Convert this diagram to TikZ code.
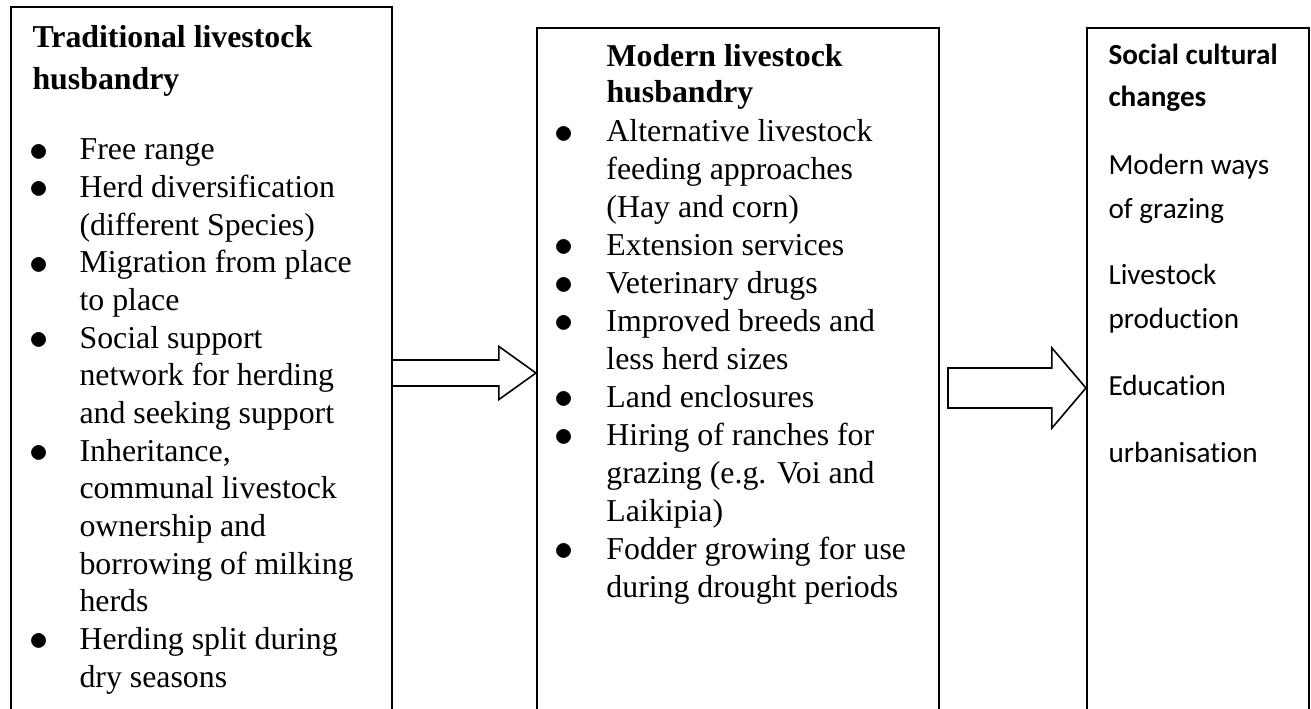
\documentclass[tikz,border=0pt]{standalone}
\usepackage{fontspec}
\setmainfont{Liberation Serif}
\newfontfamily\calibri[Ligatures=NoCommon]{Carlito}
\usetikzlibrary{calc,fit}
\tikzset{box/.style={draw,line width=0.8pt,inner sep=0pt},
  txt/.style={anchor=base west,inner sep=0pt},
  blockarrow/.style={draw,line width=0.6pt,line join=miter}}
\newcommand{\bul}{\makebox[0pt]{\smash{\raisebox{-0.4pt}{\fontsize{13.5}{0}\selectfont$\bullet$}}}}

\begin{document}
\begin{tikzpicture}[x=0.377pt,y=-0.377pt]
\useasboundingbox (0,0) rectangle (1311,709);
\clip (0,0) rectangle (1311,709);
% the three boxes run on past the bottom of the page
\node[box,fit={(11,7) (392,740)}] (trad) {};
\node[box,fit={(537,28) (939,740)}] (modern) {};
\node[box,fit={(1087,28) (1309,740)}] (social) {};

\node[txt,font=\fontsize{12}{15.8}\selectfont\bfseries] (tradhead) at (32,48)
  {\begin{tabular}[t]{@{}l@{}}Traditional livestock\\ husbandry\end{tabular}};
\node[txt,font=\fontsize{12}{14.2}\selectfont] (tradlist) at (39,160)
  {\begin{tabular}[t]{@{}p{15.1pt}@{}l@{}}
  \bul & Free range\\
  \bul & Herd diversification\\
       & (different Species)\\
  \bul & Migration from place\\
       & to place\\
  \bul & Social support\\
       & network for herding\\
       & and seeking support\\
  \bul & Inheritance,\\
       & communal livestock\\
       & ownership and\\
       & borrowing of milking\\
       & herds\\
  \bul & Herding split during\\
       & dry seasons
  \end{tabular}};

\node[txt,font=\fontsize{12}{13.2}\selectfont\bfseries] (modhead) at (606,67)
  {\begin{tabular}[t]{@{}l@{}}Modern livestock\\ husbandry\end{tabular}};
\node[txt,font=\fontsize{12}{14.3}\selectfont] (modlist) at (564,142)
  {\begin{tabular}[t]{@{}p{15.8pt}@{}l@{}}
  \bul & Alternative livestock\\
       & feeding approaches\\
       & (Hay and corn)\\
  \bul & Extension services\\
  \bul & Veterinary drugs\\
  \bul & Improved breeds and\\
       & less herd sizes\\
  \bul & Land enclosures\\
  \bul & Hiring of ranches for\\
       & grazing (e.g. Voi and\\
       & Laikipia)\\
  \bul & Fodder growing for use\\
       & during drought periods
  \end{tabular}};

\node[txt,font=\fontsize{11}{15.8}\selectfont\calibri\bfseries] (sochead) at (1108,65)
  {\begin{tabular}[t]{@{}l@{}}Social cultural\\ changes\end{tabular}};
\node[txt,font=\fontsize{11}{16.4}\selectfont\calibri] (soclist) at (1108,175)
  {\begin{tabular}[t]{@{}l@{}}
  Modern ways\\
  of grazing\\[8.5pt]
  Livestock\\
  production\\[9pt]
  Education\\[9pt]
  urbanisation
  \end{tabular}};

% block arrows
\coordinate (a1s) at (392,373);
\coordinate (a1t) at (modern.west |- a1s);
\draw[blockarrow] ($(a1s)+(0,-13)$) -- ($(a1t)+(-37,-13)$) -- ($(a1t)+(-37,-26.5)$)
  -- (a1t) -- ($(a1t)+(-37,26.5)$) -- ($(a1t)+(-37,13)$) -- ($(a1s)+(0,13)$) -- cycle;
\coordinate (a2s) at (948,388);
\coordinate (a2t) at (social.west |- a2s);
\draw[blockarrow] ($(a2s)+(0,-20)$) -- ($(a2t)+(-34,-20)$) -- ($(a2t)+(-34,-40)$)
  -- (a2t) -- ($(a2t)+(-34,40)$) -- ($(a2t)+(-34,20)$) -- ($(a2s)+(0,20)$) -- cycle;
\end{tikzpicture}
\end{document}
